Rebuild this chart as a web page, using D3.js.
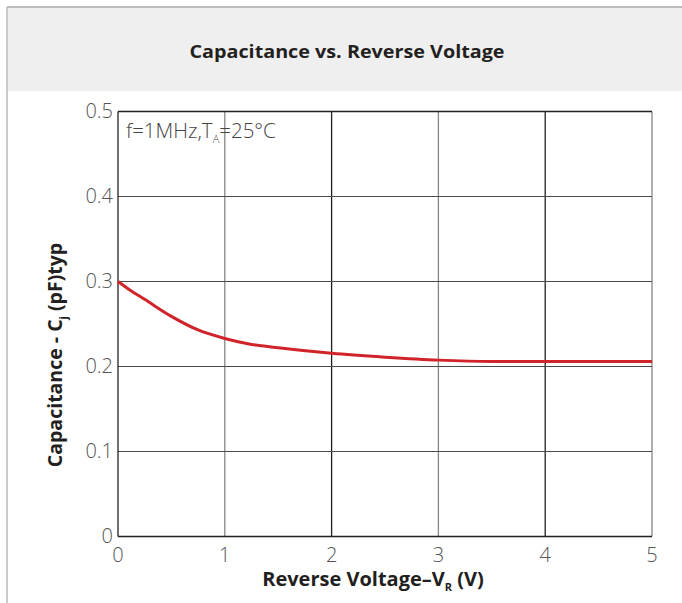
<!DOCTYPE html>
<html><head><meta charset="utf-8">
<script src="https://cdn.jsdelivr.net/npm/d3@7"></script>
<style>body{margin:0;background:#fff}</style>
</head><body>
<svg id="c" width="682" height="603"></svg>
<script>
const title = "Capacitance vs. Reverse Voltage";
const xTicks = [0, 1, 2, 3, 4, 5];
const yTicks = [0, 0.1, 0.2, 0.3, 0.4, 0.5];
const voltage = [0, 0.1, 0.25, 0.5, 0.75, 1, 1.25, 1.5, 2, 2.5, 3, 3.5, 4, 4.5, 5];
const capacitance = [0.300, 0.291, 0.279, 0.259, 0.243, 0.233, 0.226, 0.222, 0.2155, 0.211, 0.2075, 0.206, 0.206, 0.206, 0.206];

const svg = d3.select("#c");
const m = {l:118, r:652, t:111.5, b:536.5};
const x = d3.scaleLinear().domain([0,5]).range([m.l, m.r]);
const y = d3.scaleLinear().domain([0,0.5]).range([m.b, m.t]);

// frame + header
svg.append("rect").attr("x",7).attr("y",7).attr("width",680).attr("height",84).attr("fill","#efefef");
svg.append("line").attr("x1",7).attr("x2",682).attr("y1",7).attr("y2",7).attr("stroke","#aaa").attr("stroke-width",1.5);
svg.append("line").attr("x1",7).attr("x2",7).attr("y1",7).attr("y2",603).attr("stroke","#bbb").attr("stroke-width",1.5);
svg.append("text").attr("x",347).attr("y",58).attr("text-anchor","middle")
  .attr("font-family","Open Sans").attr("font-weight",700).attr("font-size",18).attr("fill","#231f20")
  .attr("textLength",315).attr("lengthAdjust","spacingAndGlyphs").text(title);

// grid
const g = svg.append("g");
xTicks.forEach((t,i)=>{
  if(i===0) return;
  g.append("line").attr("x1",x(t)).attr("x2",x(t)).attr("y1",y(0.5)).attr("y2",y(0))
   .attr("stroke", i%2===1 ? "#858585" : "#231f20").attr("stroke-width",1.3);
});
yTicks.forEach((t,i)=>{
  if(i===0) return;
  g.append("line").attr("x1",x(0)).attr("x2",x(5)).attr("y1",y(t)).attr("y2",y(t))
   .attr("stroke","#4a4a4a").attr("stroke-width",1.2);
});
// axes frame
g.append("line").attr("x1",x(0)).attr("x2",x(0)).attr("y1",y(0.5)).attr("y2",y(0)).attr("stroke","#231f20").attr("stroke-width",1.3);
g.append("line").attr("x1",x(0)).attr("x2",x(5)).attr("y1",y(0)).attr("y2",y(0)).attr("stroke","#231f20").attr("stroke-width",1.3);
g.append("line").attr("x1",x(0)).attr("x2",x(5)).attr("y1",y(0.5)).attr("y2",y(0.5)).attr("stroke","#231f20").attr("stroke-width",1.3);

// tick labels
const tf = "Open Sans";
yTicks.forEach(t=>{
  svg.append("text").attr("x",x(0)-5).attr("y",y(t)+6).attr("text-anchor","end")
   .attr("font-family",tf).attr("font-weight",300).attr("font-size",20).attr("fill","#555")
   .text(t===0?"0":d3.format(".1f")(t));
});
xTicks.forEach(t=>{
  svg.append("text").attr("x",x(t)).attr("y",y(0)+25).attr("text-anchor","middle")
   .attr("font-family",tf).attr("font-weight",300).attr("font-size",20).attr("fill","#555").text(t);
});

// annotation
const ann = svg.append("text").attr("x",126).attr("y",138).attr("font-family",tf).attr("font-weight",300)
  .attr("font-size",20.5).attr("fill","#444");
ann.append("tspan").text("f=1MHz,T");
ann.append("tspan").attr("font-size",11).attr("dy",5).text("A");
ann.append("tspan").attr("dy",-5).text("=25°C");

// axis titles
const xl = svg.append("text").attr("x",373).attr("y",586).attr("text-anchor","middle")
  .attr("font-family",tf).attr("font-weight",700).attr("font-size",20).attr("fill","#231f20");
xl.append("tspan").text("Reverse Voltage–V");
xl.append("tspan").attr("font-size",11).attr("dy",5).text("R");
xl.append("tspan").attr("dy",-5).text(" (V)");

const yl = svg.append("text").attr("transform","translate(62,355) rotate(-90)").attr("text-anchor","middle")
  .attr("font-family",tf).attr("font-weight",700).attr("font-size",19.5).attr("fill","#231f20");
yl.append("tspan").text("Capacitance - C");
yl.append("tspan").attr("font-size",11).attr("dy",5).text("j");
yl.append("tspan").attr("dy",-5).text(" (pF)typ");

// curve
const data = voltage.map((v,i)=>[v, capacitance[i]]);
svg.append("path").datum(data).attr("fill","none").attr("stroke","#d1232a").attr("stroke-width",3)
  .attr("d", d3.line().x(d=>x(d[0])).y(d=>y(d[1])).curve(d3.curveMonotoneX));
</script>
</body></html>
